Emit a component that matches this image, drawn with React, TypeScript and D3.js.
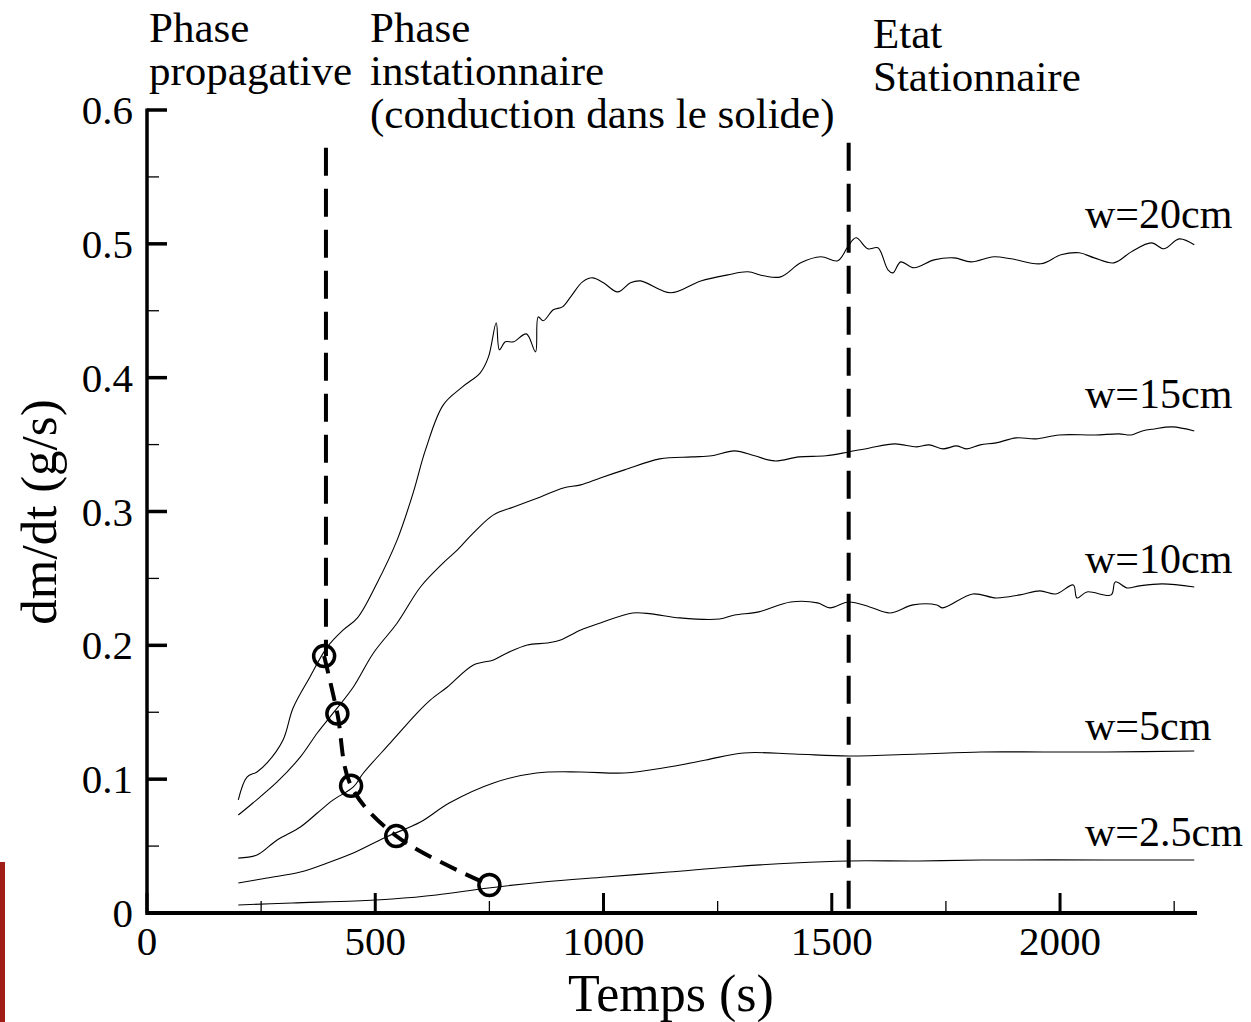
import React from "react";
import * as d3 from "d3";

// data: [temps (s), dm/dt (g/s)]
const w20: [number, number][] = [
  [200, 0.0845], [219, 0.1016], [241, 0.1054], [263, 0.1121], [298, 0.1293], [320, 0.1532],
  [357, 0.1764], [395, 0.1988], [430, 0.2115], [461, 0.2205], [504, 0.2466], [548, 0.2788],
  [583, 0.3139], [610, 0.346], [649, 0.3797], [691, 0.3931], [730, 0.4036], [748, 0.4155],
  [765, 0.441], [772, 0.4208], [785, 0.4268], [803, 0.4268], [831, 0.4327], [851, 0.4193],
  [857, 0.4454], [868, 0.4425], [890, 0.4507], [910, 0.4529], [928, 0.4604], [954, 0.4716],
  [976, 0.4746], [1000, 0.4709], [1031, 0.4641], [1059, 0.4709], [1081, 0.4723], [1147, 0.4634],
  [1213, 0.4723], [1272, 0.4768], [1316, 0.4791], [1351, 0.4761], [1388, 0.4753], [1432, 0.4858],
  [1476, 0.4903], [1513, 0.4873], [1535, 0.4978], [1553, 0.5045], [1579, 0.4963], [1601, 0.497],
  [1623, 0.4806], [1634, 0.4783], [1651, 0.4865], [1680, 0.4821], [1724, 0.488], [1768, 0.4895],
  [1805, 0.4865], [1855, 0.4903], [1893, 0.4888], [1958, 0.4851], [2002, 0.4918], [2042, 0.4933],
  [2075, 0.4895], [2118, 0.4858], [2156, 0.494], [2200, 0.5007], [2228, 0.4963], [2261, 0.5037],
  [2294, 0.4993],
];

const w15: [number, number][] = [
  [200, 0.0732], [232, 0.0822], [285, 0.0979], [336, 0.1166], [373, 0.1345], [408, 0.1495],
  [452, 0.1689], [496, 0.1943], [548, 0.2167], [599, 0.2436], [649, 0.2616], [680, 0.2713],
  [715, 0.284], [759, 0.2975], [803, 0.3034], [862, 0.3109], [912, 0.3176], [950, 0.3199],
  [993, 0.3251], [1046, 0.3311], [1123, 0.3393], [1193, 0.3408], [1237, 0.3416], [1287, 0.3453],
  [1331, 0.3416], [1375, 0.3378], [1428, 0.3408], [1487, 0.3416], [1537, 0.3445], [1583, 0.3475],
  [1638, 0.3505], [1686, 0.3483], [1713, 0.3498], [1743, 0.3468], [1774, 0.349], [1796, 0.3468],
  [1825, 0.3498], [1860, 0.3513], [1904, 0.355], [1947, 0.3543], [1998, 0.3572], [2077, 0.3572],
  [2129, 0.358], [2156, 0.3572], [2180, 0.3602], [2206, 0.3617], [2246, 0.3632], [2294, 0.3602],
];

const w10: [number, number][] = [
  [200, 0.041], [241, 0.0433], [285, 0.0546], [336, 0.0643], [373, 0.0747], [408, 0.0845],
  [452, 0.0942], [474, 0.1046], [533, 0.1271], [592, 0.1495], [621, 0.1592], [658, 0.1689],
  [715, 0.1853], [759, 0.1891], [789, 0.1943], [833, 0.2003], [877, 0.2018], [906, 0.204],
  [950, 0.2115], [993, 0.2167], [1064, 0.2242], [1105, 0.2235], [1167, 0.2205], [1254, 0.2197],
  [1287, 0.2227], [1340, 0.225], [1410, 0.2324], [1469, 0.2317], [1496, 0.228], [1537, 0.2324],
  [1583, 0.2287], [1627, 0.2242], [1678, 0.2302], [1730, 0.2302], [1743, 0.228], [1809, 0.2384],
  [1860, 0.2354], [1912, 0.2377], [1956, 0.2407], [1991, 0.2384], [2029, 0.2451], [2037, 0.2354],
  [2059, 0.2399], [2112, 0.2377], [2121, 0.2474], [2147, 0.2429], [2173, 0.2444], [2224, 0.2459],
  [2294, 0.2436],
];

const w5: [number, number][] = [
  [200, 0.0224], [263, 0.0262], [336, 0.0306], [395, 0.0374], [452, 0.0448], [524, 0.0568],
  [599, 0.068], [662, 0.0822], [759, 0.0972], [853, 0.1046], [950, 0.1054], [1046, 0.1046],
  [1143, 0.1091], [1224, 0.1143], [1307, 0.1196], [1417, 0.1188], [1537, 0.1173], [1691, 0.1188],
  [1827, 0.1203], [1965, 0.1203], [2101, 0.1203], [2294, 0.1211],
];

const w25: [number, number][] = [
  [200, 0.006], [318, 0.0075], [456, 0.009], [537, 0.0105], [634, 0.0135], [748, 0.0187],
  [868, 0.0232], [1004, 0.0269], [1143, 0.0306], [1278, 0.0344], [1417, 0.0374], [1537, 0.0389],
  [1691, 0.0389], [1827, 0.0396], [2101, 0.0396], [2294, 0.0396],
];

const series = [w20, w15, w10, w5, w25];
const seriesLabels = ["w=20cm", "w=15cm", "w=10cm", "w=5cm", "w=2.5cm"];
const labelValues = [0.512, 0.377, 0.254, 0.129, 0.05];

// end of the propagative phase, marked on each curve
const transition: [number, number][] = [
  [388, 0.192], [417, 0.149], [447, 0.095], [546, 0.0575], [750, 0.0209],
];

const phaseLimits = [392, 1537];
const phaseTops = [0.5717, 0.5755];

const xTicks = [0, 500, 1000, 1500, 2000];
const xMinor = [250, 750, 1250, 1750, 2250];
const yTicks = [0, 0.1, 0.2, 0.3, 0.4, 0.5, 0.6];
const yTickLabels = ["0", "0.1", "0.2", "0.3", "0.4", "0.5", "0.6"];
const yMinor = [0.05, 0.15, 0.25, 0.35, 0.45, 0.55];

const FONT = "'Liberation Serif', 'Times New Roman', serif";

export default function App() {
  const width = 1251;
  const height = 1022;
  const x = d3.scaleLinear().domain([0, 2300]).range([147, 1197]);
  const y = d3.scaleLinear().domain([0, 0.6]).range([913, 110]);

  const line = d3
    .line<[number, number]>()
    .x((d) => x(d[0]))
    .y((d) => y(d[1]))
    .curve(d3.curveCatmullRom.alpha(0.5));

  const dashed = d3
    .line<[number, number]>()
    .x((d) => x(d[0]))
    .y((d) => y(d[1]))
    .curve(d3.curveCatmullRom);

  return (
    <svg
      width={width}
      height={height}
      style={{ position: "absolute", left: 0, top: 0, background: "#fff" }}
      fontFamily={FONT}
    >
      <rect x={0} y={862} width={5} height={160} fill="#a01d17" />

      {/* curves */}
      {series.map((s, i) => (
        <path key={i} d={line(s) || ""} fill="none" stroke="#000" strokeWidth={1.1} />
      ))}

      {/* phase separators */}
      <line
        x1={x(phaseLimits[0])}
        x2={x(phaseLimits[0])}
        y1={y(phaseTops[0])}
        y2={y(transition[0][1])}
        stroke="#000"
        strokeWidth={4}
        strokeDasharray="28,13"
      />
      <line
        x1={x(phaseLimits[1])}
        x2={x(phaseLimits[1])}
        y1={y(phaseTops[1])}
        y2={y(0)}
        stroke="#000"
        strokeWidth={4}
        strokeDasharray="28,13"
      />

      <path
        d={dashed(transition) || ""}
        fill="none"
        stroke="#000"
        strokeWidth={4}
        strokeDasharray="18,10"
      />
      {transition.map((d, i) => (
        <circle key={i} cx={x(d[0])} cy={y(d[1])} r={10.5} fill="none" stroke="#000" strokeWidth={3.5} />
      ))}

      {/* axes */}
      <line x1={x(0)} x2={x(2300)} y1={y(0)} y2={y(0)} stroke="#000" strokeWidth={4} />
      <line x1={x(0)} x2={x(0)} y1={y(0) + 2} y2={y(0.6) - 1.5} stroke="#000" strokeWidth={3.5} />
      {xTicks.map((t) => (
        <g key={t}>
          <line x1={x(t)} x2={x(t)} y1={y(0)} y2={y(0) - 20} stroke="#000" strokeWidth={3} />
          <text x={x(t)} y={955} textAnchor="middle" fontSize={41}>
            {t}
          </text>
        </g>
      ))}
      {xMinor.map((t) => (
        <line key={t} x1={x(t)} x2={x(t)} y1={y(0)} y2={y(0) - 12} stroke="#000" strokeWidth={1.3} />
      ))}
      {yTicks.map((t, i) => (
        <g key={t}>
          <line x1={x(0)} x2={x(0) + 20} y1={y(t)} y2={y(t)} stroke="#000" strokeWidth={3.5} />
          <text x={133} y={y(t) + 14} textAnchor="end" fontSize={41}>
            {yTickLabels[i]}
          </text>
        </g>
      ))}
      {yMinor.map((t) => (
        <line key={t} x1={x(0)} x2={x(0) + 12} y1={y(t)} y2={y(t)} stroke="#000" strokeWidth={1.3} />
      ))}

      <text x={671} y={1011} textAnchor="middle" fontSize={52}>
        Temps (s)
      </text>
      <text transform={`translate(56,${512}) rotate(-90)`} textAnchor="middle" fontSize={51}>
        dm/dt (g/s)
      </text>

      {/* series labels */}
      {seriesLabels.map((lab, i) => (
        <text key={lab} x={1085} y={y(labelValues[i])} fontSize={42}>
          {lab}
        </text>
      ))}

      {/* phase annotations */}
      <text x={149} y={42} fontSize={43}>Phase</text>
      <text x={149} y={85} fontSize={43}>propagative</text>
      <text x={370} y={42} fontSize={43}>Phase</text>
      <text x={370} y={85} fontSize={43}>instationnaire</text>
      <text x={370} y={128} fontSize={43}>(conduction dans le solide)</text>
      <text x={873} y={48} fontSize={43}>Etat</text>
      <text x={873} y={91} fontSize={43}>Stationnaire</text>
    </svg>
  );
}
